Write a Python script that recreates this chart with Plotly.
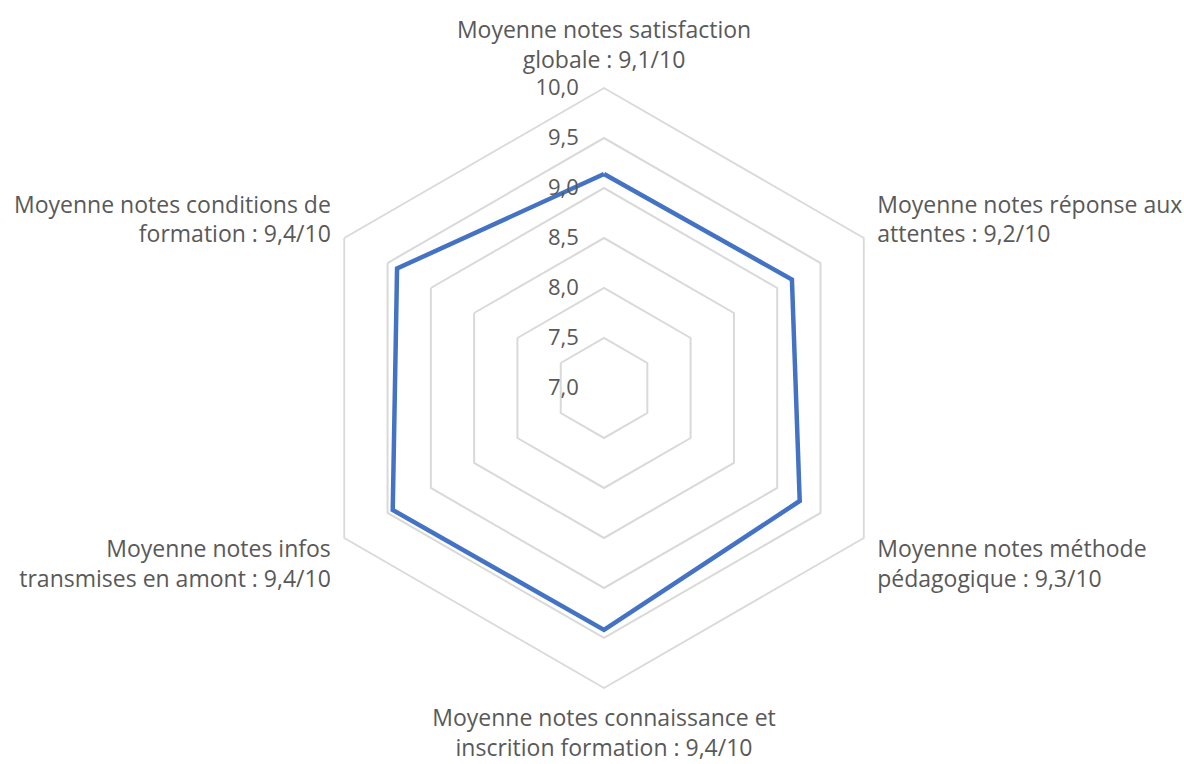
import plotly.graph_objects as go

# Category labels (two lines each) and average scores out of 10
categories = [
    "Moyenne notes satisfaction<br>globale : 9,1/10",
    "Moyenne notes réponse aux<br>attentes : 9,2/10",
    "Moyenne notes méthode<br>pédagogique : 9,3/10",
    "Moyenne notes connaissance et<br>inscrition formation : 9,4/10",
    "Moyenne notes infos<br>transmises en amont : 9,4/10",
    "Moyenne notes conditions de<br>formation : 9,4/10",
]
scores = [9.14, 9.17, 9.26, 9.42, 9.44, 9.39]
radial_ticks = [7.0, 7.5, 8.0, 8.5, 9.0, 9.5, 10.0]

grid_color = "#d9d9d9"
text_color = "#595959"
font_family = "Open Sans, Liberation Sans, sans-serif"

fig = go.Figure()
fig.add_trace(
    go.Scatterpolar(
        r=scores + scores[:1],
        theta=categories + categories[:1],
        mode="lines",
        line=dict(color="#4472C4", width=4.5),
        hoverinfo="skip",
        showlegend=False,
    )
)

fig.update_layout(
    width=1184,
    height=764,
    margin=dict(l=0, r=0, t=0, b=0),
    paper_bgcolor="white",
    plot_bgcolor="white",
    separators=", ",
    font=dict(family=font_family, color=text_color, size=22),
    polar=dict(
        domain=dict(x=[0.2568, 0.7635], y=[0.0995, 0.8848]),
        bgcolor="white",
        gridshape="linear",
        radialaxis=dict(
            range=[7.0, 10.0],
            tickvals=radial_ticks,
            tickformat=".1f",
            angle=90,
            tickangle=90,
            side="counterclockwise",
            showline=False,
            ticks="outside",
            ticklen=17,
            tickcolor="rgba(0,0,0,0)",
            showgrid=True,
            gridcolor=grid_color,
            gridwidth=1.8,
            tickfont=dict(size=22, color=text_color),
        ),
        angularaxis=dict(
            rotation=90,
            direction="clockwise",
            showgrid=False,
            showline=True,
            linecolor=grid_color,
            linewidth=1.8,
            ticks="outside",
            ticklen=10,
            tickcolor="rgba(0,0,0,0)",
            tickfont=dict(size=23, color=text_color),
        ),
    ),
)

fig.write_html("out.html")
